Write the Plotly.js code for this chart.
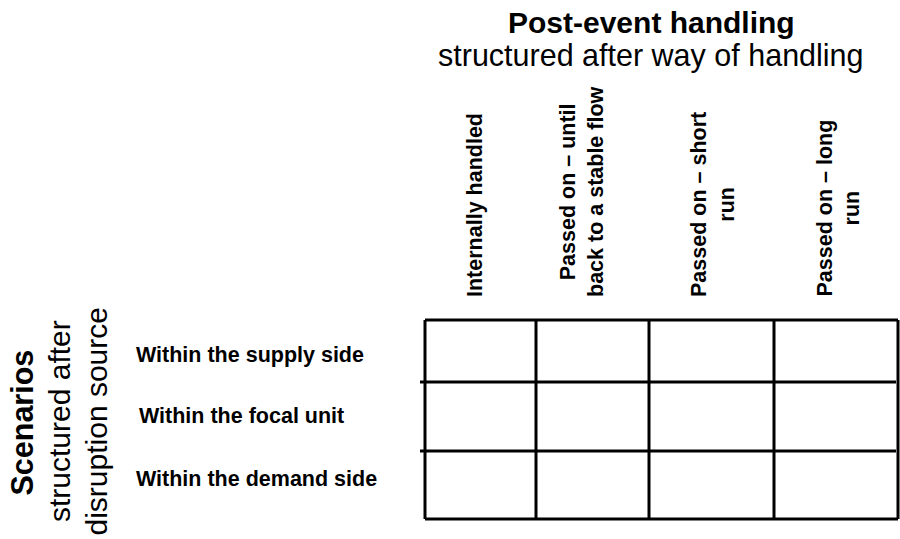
<!DOCTYPE html>
<html>
<head>
<meta charset="utf-8">
<script src="https://cdn.plot.ly/plotly-3.0.1.min.js"></script>
<style>
  html, body { margin: 0; padding: 0; background: #ffffff; }
  #chart { width: 900px; height: 539px; }
</style>
</head>
<body>
<div id="chart"></div>
<script>
// ---- data (text content of the matrix) ----
const columnLabels = [
  'Internally handled',
  'Passed on \u2013 until<br>back to a stable flow',
  'Passed on \u2013 short<br>run',
  'Passed on \u2013 long<br>run'
];
const rowLabels = [
  'Within the supply side',
  'Within the focal unit',
  'Within the demand side'
];
const topTitle = 'Post-event handling';
const topSubtitle = 'structured after way of handling';
const sideTitle = 'Scenarios';
const sideSubtitle1 = 'structured after';
const sideSubtitle2 = 'disruption source';

// ---- layout geometry (positions in the 900x539 frame) ----
const colEdges = [425, 536, 649, 774, 898];
const rowEdges = [320, 382, 451, 519];
const innerLineLeft = 420;
const innerLineRight = 896;
const colLabelX = [475, 581.5, 712.5, 838];
const colLabelBottom = 299;
const rowLabelX = [134, 137, 134];
const rowLabelY = [354.5, 415.5, 478.5];

const FONT = 'Liberation Sans, Arial, Helvetica, sans-serif';

// grid lines built from the edges
const gx = [], gy = [];
function seg(x0, y0, x1, y1) { gx.push(x0, x1, null); gy.push(y0, y1, null); }
// outer top / bottom borders
seg(colEdges[0], rowEdges[0], colEdges[colEdges.length - 1], rowEdges[0]);
seg(colEdges[0], rowEdges[rowEdges.length - 1], colEdges[colEdges.length - 1], rowEdges[rowEdges.length - 1]);
// inner horizontal lines (slightly protruding to the left)
for (let i = 1; i < rowEdges.length - 1; i++) seg(innerLineLeft, rowEdges[i], innerLineRight, rowEdges[i]);
// vertical lines
for (let j = 0; j < colEdges.length; j++) seg(colEdges[j], rowEdges[0], colEdges[j], rowEdges[rowEdges.length - 1]);

const traces = [{
  type: 'scatter',
  mode: 'lines',
  x: gx,
  y: gy,
  connectgaps: false,
  line: { color: '#000000', width: 3 },
  hoverinfo: 'skip',
  showlegend: false
}];

const annotations = [];
// top title
annotations.push({
  text: '<b>' + topTitle + '</b>', x: 651, y: 22, xref: 'x', yref: 'y',
  xanchor: 'center', yanchor: 'middle', showarrow: false,
  font: { family: FONT, size: 30, color: '#000000' }
});
annotations.push({
  text: topSubtitle, x: 651, y: 55.5, xref: 'x', yref: 'y',
  xanchor: 'center', yanchor: 'middle', showarrow: false,
  font: { family: FONT, size: 30.5, color: '#000000' }
});
// side title
annotations.push({
  text: '<b>' + sideTitle + '</b>', x: 21.5, y: 423, xref: 'x', yref: 'y',
  xanchor: 'center', yanchor: 'middle', showarrow: false, textangle: -90,
  font: { family: FONT, size: 30.5, color: '#000000' }
});
annotations.push({
  text: sideSubtitle1, x: 59.5, y: 421.5, xref: 'x', yref: 'y',
  xanchor: 'center', yanchor: 'middle', showarrow: false, textangle: -90,
  font: { family: FONT, size: 30, color: '#000000' }
});
annotations.push({
  text: sideSubtitle2, x: 95.5, y: 422, xref: 'x', yref: 'y',
  xanchor: 'center', yanchor: 'middle', showarrow: false, textangle: -90,
  font: { family: FONT, size: 30, color: '#000000' }
});
// column labels
columnLabels.forEach((lab, j) => {
  annotations.push({
    text: '<b>' + lab + '</b>', x: colLabelX[j], y: colLabelBottom, xref: 'x', yref: 'y',
    xanchor: 'center', yanchor: 'bottom', showarrow: false, textangle: -90, align: 'center',
    font: { family: FONT, size: 21.5, color: '#000000' }
  });
});
// row labels
rowLabels.forEach((lab, i) => {
  annotations.push({
    text: '<b>' + lab + '</b>', x: rowLabelX[i], y: rowLabelY[i], xref: 'x', yref: 'y',
    xanchor: 'left', yanchor: 'middle', showarrow: false,
    font: { family: FONT, size: 21.5, color: '#000000' }
  });
});

const layout = {
  width: 900,
  height: 539,
  margin: { l: 0, r: 0, t: 0, b: 0, pad: 0 },
  paper_bgcolor: '#ffffff',
  plot_bgcolor: '#ffffff',
  showlegend: false,
  xaxis: { range: [0, 900], visible: false, fixedrange: true },
  yaxis: { range: [539, 0], visible: false, fixedrange: true },
  annotations: annotations
};

Plotly.newPlot('chart', traces, layout, { staticPlot: true, displayModeBar: false });
</script>
</body>
</html>
